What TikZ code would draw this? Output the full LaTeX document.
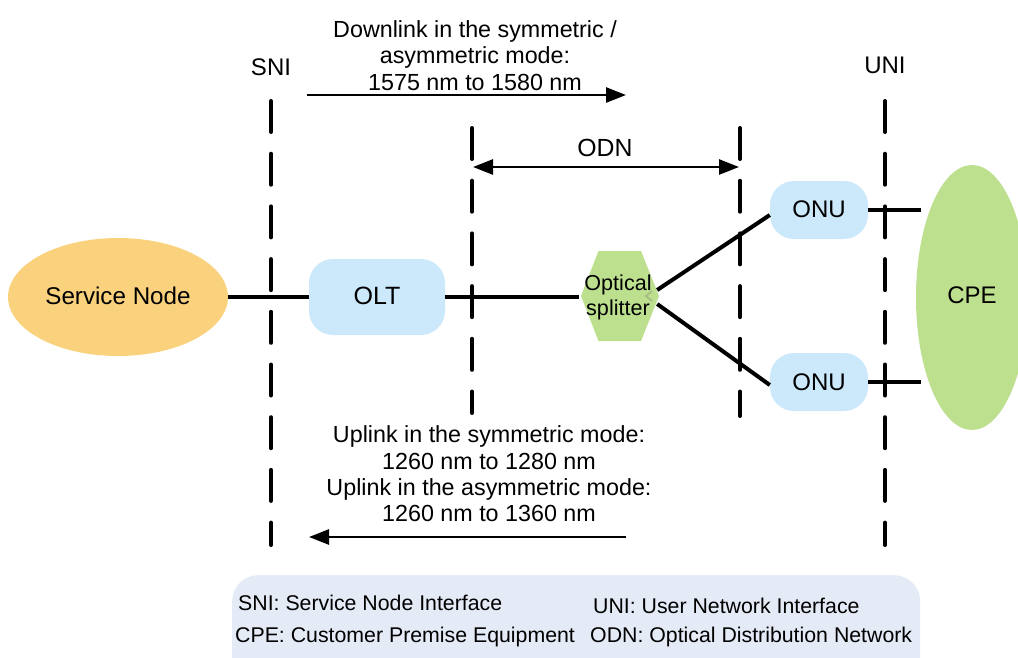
\documentclass[tikz,border=0pt]{standalone}
\usepackage{fontspec}
\setmainfont{Liberation Sans}
\usetikzlibrary{arrows.meta,shapes.geometric}
\definecolor{nodeblue}{HTML}{CCE8FB}
\definecolor{splitgreen}{HTML}{BDE08F}
\definecolor{svcorange}{HTML}{FAD27E}
\definecolor{legendbg}{HTML}{E4EAF6}
\tikzset{
  txt/.style={inner sep=0pt,font=\fontsize{23.3}{26.3}\selectfont,align=center,text=black},
  legtxt/.style={inner sep=0pt,font=\fontsize{21.3}{24}\selectfont,anchor=west,text=black},
  bluebox/.style={fill=nodeblue,rounded corners=24pt,inner sep=0pt,font=\fontsize{24}{26}\selectfont},
  link/.style={line width=4pt,black},
  boundary/.style={line width=4pt,black,line cap=round,dash pattern=on 31pt off 21.7pt},
  flow/.style={line width=2.6pt,black,-{Triangle[length=20pt,width=15pt]}},
}
\begin{document}
\begin{tikzpicture}[x=1pt,y=-1pt]
\useasboundingbox (0,0) rectangle (1018,657);
\begin{scope}
\clip (0,0) rectangle (1018,657);
% legend panel
\node[fill=legendbg,rounded corners=26pt,minimum width=688pt,minimum height=110pt,inner sep=0pt,anchor=north west] (legend) at (232,575) {};
% CPE
\node[fill=splitgreen,ellipse,minimum width=112pt,minimum height=265pt,inner sep=0pt] (cpe) at (972,297.5) {};
\end{scope}
\node[txt,font=\fontsize{24}{26}\selectfont] at (972,295) {CPE};
% service node
\node[fill=svcorange,ellipse,minimum width=220pt,minimum height=118pt,inner sep=0pt,font=\fontsize{24.2}{26}\selectfont] (svc) at (118,297) {\raisebox{2pt}{Service Node}};
% OLT / ONU
\node[bluebox,minimum width=136pt,minimum height=76pt,font=\fontsize{25}{26}\selectfont] (olt) at (377,297) {\raisebox{2pt}{OLT}};
\node[bluebox,minimum width=98pt,minimum height=58pt] (onua) at (819,210) {\raisebox{2pt}{ONU}};
\node[bluebox,minimum width=98pt,minimum height=58pt] (onub) at (819,382) {ONU};
% splitter
\fill[splitgreen] (581,296) -- (598.5,251) -- (641,251) -- (659,296) -- (641,341) -- (598.5,341) -- cycle;
\draw[splitgreen!80!black!85,line width=2pt] (652,291) -- (646,296) -- (652,301);
\node[inner sep=0pt,minimum width=78pt,minimum height=90pt,font=\fontsize{21.6}{25}\selectfont,align=center] (split) at (618,297) {\raisebox{1pt}{Optical}\\\raisebox{1pt}{splitter}};
% boundary coordinates
\coordinate (sniT) at (271,101);
\coordinate (sniB) at (271,545);
\coordinate (odlT) at (472,128);
\coordinate (odlB) at (472,413);
\coordinate (odrT) at (740,128);
\coordinate (odrB) at (740,416);
\coordinate (uniT) at (885,101);
\coordinate (uniB) at (885,545);
\draw[boundary] (sniT) -- (sniB);
\draw[boundary] (odlT) -- (odlB);
\draw[boundary] (odrT) -- (odrB);
\draw[boundary] (uniT) -- (uniB);
% links
\draw[link] (svc.east) -- (olt.west);
\draw[link] (olt.east) -- (split.west);
\draw[link] ([yshift=7pt]split.east) -- ([yshift=-5pt]onua.west);
\draw[link] ([yshift=-7pt]split.east) -- ([yshift=-3pt]onub.west);
\coordinate (cpeA) at (921,210);
\coordinate (cpeB) at (921,382);
\draw[link] (onua.east) -- (cpeA);
\draw[link] (onub.east) -- (cpeB);
% flow arrows
\coordinate (dnA) at (307,95);
\coordinate (dnB) at (626,95);
\coordinate (upA) at (626,537);
\coordinate (upB) at (309,537);
\coordinate (odA) at (473,167);
\coordinate (odB) at (739,167);
\draw[flow] (dnA) -- (dnB);
\draw[flow] (upA) -- (upB);
\draw[line width=2.6pt,{Triangle[length=20pt,width=15pt]}-{Triangle[length=20pt,width=15pt]}] (odA) -- (odB);
% labels
\node[txt,font=\fontsize{24}{26}\selectfont] at (271,67) {SNI};
\node[txt,font=\fontsize{24}{26}\selectfont] at (885,65) {UNI};
\node[txt,font=\fontsize{24.8}{26}\selectfont] at (605,148) {ODN};
\node[txt] at (475,55.5) {Downlink in the symmetric /\\asymmetric mode:\\1575 nm to 1580 nm};
\node[txt] at (489,474) {Uplink in the symmetric mode:\\1260 nm to 1280 nm\\Uplink in the asymmetric mode:\\1260 nm to 1360 nm};
% legend text
\node[legtxt] at (238,603) {SNI: Service Node Interface};
\node[legtxt] at (593,606) {UNI: User Network Interface};
\node[legtxt] at (235,637) {CPE: Customer Premise Equipment};
\node[legtxt] at (590,637) {ODN: Optical Distribution Network};
\end{tikzpicture}
\end{document}
